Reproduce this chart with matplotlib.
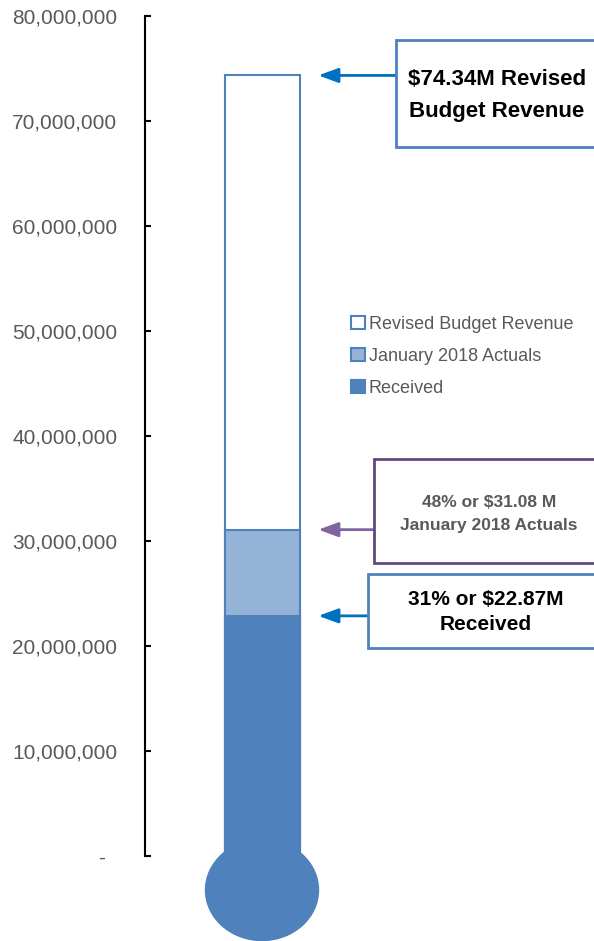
"""Thermometer-style revenue chart: budget vs actuals vs received."""

import matplotlib
matplotlib.use("Agg")
import matplotlib.pyplot as plt
from matplotlib.patches import Ellipse, Rectangle
from matplotlib.ticker import FuncFormatter

plt.rcParams["font.family"] = ["Liberation Sans", "DejaVu Sans"]

# Data
series = ["Revised Budget Revenue", "January 2018 Actuals", "Received"]
values = [74_340_000, 31_080_000, 22_870_000]
callouts = [
    "$74.34M Revised\nBudget Revenue",
    "48% or $31.08 M\nJanuary 2018 Actuals",
    "31% or $22.87M\nReceived",
]
y_ticks = list(range(0, 80_000_001, 10_000_000))

# Styles
BLUE = "#4F81BD"
LIGHT = "#95B3D7"
ARROW_BLUE = "#0070C0"
PURPLE_BOX = "#604A7B"
PURPLE_ARROW = "#8064A2"
GREY = "#595959"

W, H = 594, 941
fig = plt.figure(figsize=(W / 100, H / 100), dpi=100)
ax = fig.add_axes([145 / W, (H - 856) / H, 449 / W, 840 / H])
ax.set_xlim(0, 1)
ax.set_ylim(0, 80_000_000)

bar_x, bar_w = 0.2617, 0.167
fills = ["white", LIGHT, BLUE]
bars = []
for name, val, fc in zip(series, values, fills):
    b = ax.bar(bar_x, val, bar_w, color=fc, edgecolor=BLUE, linewidth=1.5,
               label=name, zorder=2)
    bars.append(b)

# bulb of the thermometer, below the zero line
ax.add_patch(Ellipse((0.2606, -3_240_000), 0.2517, 9_620_000, color=BLUE,
                     clip_on=False, zorder=1))

# axis
for side in ["top", "right", "bottom"]:
    ax.spines[side].set_visible(False)
ax.spines["left"].set_linewidth(1.5)
ax.set_xticks([])
ax.set_yticks(y_ticks)
ax.yaxis.set_major_formatter(
    FuncFormatter(lambda v, _: "-  " if v == 0 else f"{v:,.0f}"))
ax.tick_params(axis="y", direction="in", length=4.5, width=1.5, pad=20,
               labelsize=15, labelcolor=GREY)

# legend
ax.legend(handles=[b[0] for b in bars], labels=series, loc="upper left",
          bbox_to_anchor=(351 / W, 1 - 316 / H), bbox_transform=fig.transFigure,
          frameon=False, fontsize=13, labelcolor=GREY, borderpad=0,
          borderaxespad=0, handlelength=0.77, handleheight=0.77,
          handletextpad=0.2, labelspacing=0.83)


def fig_xy(x, y):
    return x / W, 1 - y / H


# callout boxes: left, top, right, bottom (px), text centre y offset, styles
boxes = [
    (396, 40, 598, 147, 2, BLUE, ARROW_BLUE, 16, "black", 1.7),
    (374, 459, 604, 563, 3, PURPLE_BOX, PURPLE_ARROW, 12.5, GREY, 1.65),
    (368, 574, 603, 648, 1, BLUE, ARROW_BLUE, 15, "black", 1.45),
]
for (l, t, r, btm, dy, ec, ac, fs, tc, ls), text, val in zip(boxes, callouts, values):
    x0, y0 = fig_xy(l, btm)
    x1, y1 = fig_xy(r, t)
    fig.add_artist(Rectangle((x0, y0), x1 - x0, y1 - y0, transform=fig.transFigure,
                             facecolor="white", edgecolor=ec, linewidth=2))
    cx, cy = fig_xy((l + r) / 2, (t + btm) / 2 + dy)
    fig.text(cx, cy, text, ha="center", va="center", fontsize=fs,
             fontweight="bold", color=tc, linespacing=ls)
    ax.annotate("", xy=(0.386, val), xycoords=("axes fraction", "data"),
                xytext=((l - 145) / 449, val),
                textcoords=("axes fraction", "data"),
                arrowprops=dict(arrowstyle="-|>,head_length=0.6,head_width=0.22",
                                mutation_scale=20, color=ac, lw=2,
                                shrinkA=0, shrinkB=0))

fig.savefig("out.png", dpi=100)
